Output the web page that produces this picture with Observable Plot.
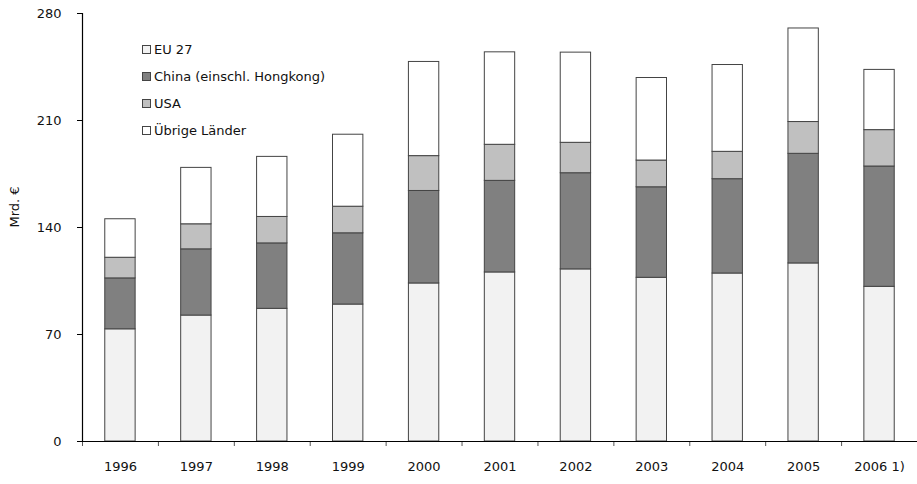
<!DOCTYPE html>
<html>
<head>
<meta charset="utf-8">
<script src="https://cdn.jsdelivr.net/npm/d3@7"></script>
<script src="https://cdn.jsdelivr.net/npm/@observablehq/plot@0.6"></script>
<style>
  html, body { margin: 0; padding: 0; background: #fff; }
  #wrap { position: relative; width: 917px; height: 484px; font-family: "DejaVu Sans", sans-serif; }
  #legend { position: absolute; left: 142px; top: 36px; font-size: 13px; color: #111; }
  #legend .item { display: flex; align-items: center; height: 27px; }
  #legend .sw { width: 7px; height: 7px; border: 1px solid #444; margin-right: 3px; box-sizing: content-box; }
</style>
</head>
<body>
<div id="wrap"><div id="legend"></div></div>
<script>
const years = ["1996","1997","1998","1999","2000","2001","2002","2003","2004","2005","2006 1)"];
const seriesNames = ["EU 27", "China (einschl. Hongkong)", "USA", "Übrige Länder"];
const seriesColors = ["#f2f2f2", "#808080", "#c0c0c0", "#ffffff"];
const euValues    = [73.4, 82.4, 86.8, 89.6, 103.4, 110.6, 112.6, 107.1, 109.9, 116.5, 101.2];
const chinaValues = [33.3, 43.3, 42.8, 46.6, 60.5, 59.9, 62.9, 59.2, 61.7, 71.7, 78.7];
const usaValues   = [13.5, 16.4, 17.3, 17.4, 22.8, 23.6, 19.9, 17.5, 17.9, 20.8, 23.8];
const otherValues = [25.2, 36.9, 39.3, 47.1, 61.6, 60.5, 59.0, 54.0, 56.8, 61.2, 39.4];
const yTicks = [0, 70, 140, 210, 280];
const yLabel = "Mrd. €";

const allSeries = [euValues, chinaValues, usaValues, otherValues];
const rows = [];
years.forEach((yr, i) => {
  let base = 0;
  allSeries.forEach((vals, s) => {
    rows.push({i, year: yr, series: seriesNames[s], y1: base, y2: base + vals[i]});
    base += vals[i];
  });
});

const halfBar = 0.2;
const boundaries = d3.range(years.length + 1).map(k => k - 0.5);

const chart = Plot.plot({
  width: 917,
  height: 484,
  marginLeft: 82,
  marginRight: 0,
  marginTop: 13,
  marginBottom: 43,
  style: {fontFamily: "DejaVu Sans, sans-serif", fontSize: "13px", color: "#111", background: "#fff"},
  x: {domain: [-0.5, years.length - 0.5]},
  y: {domain: [0, 280]},
  color: {domain: seriesNames, range: seriesColors},
  marks: [
    Plot.rect(rows, {x1: d => d.i - halfBar, x2: d => d.i + halfBar, y1: "y1", y2: "y2", fill: "series", stroke: "#444", strokeWidth: 1}),
    Plot.axisY({ticks: yTicks, tickSize: 5, tickPadding: 16, label: null, stroke: "#000"}),
    Plot.ruleX([-0.5], {stroke: "#000", strokeWidth: 1.2}),
    Plot.text([yLabel], {text: d => d, frameAnchor: "left", dx: -68, rotate: -90, fontSize: 13}),
    Plot.axisX({ticks: d3.range(years.length), tickFormat: i => years[i], tickSize: 0, tickPadding: 20, label: null}),
    Plot.axisX({ticks: boundaries, tickFormat: () => "", tickSize: 5, label: null, stroke: "#555"}),
    Plot.ruleY([0], {stroke: "#000", strokeWidth: 1.2})
  ]
});
document.getElementById("wrap").prepend(chart);
chart.style.position = "absolute";
chart.style.left = "0";
chart.style.top = "0";

const legend = document.getElementById("legend");
seriesNames.forEach((name, s) => {
  const item = document.createElement("div");
  item.className = "item";
  const sw = document.createElement("span");
  sw.className = "sw";
  sw.style.background = seriesColors[s];
  const t = document.createElement("span");
  t.textContent = name;
  item.appendChild(sw);
  item.appendChild(t);
  legend.appendChild(item);
});
</script>
</body>
</html>
